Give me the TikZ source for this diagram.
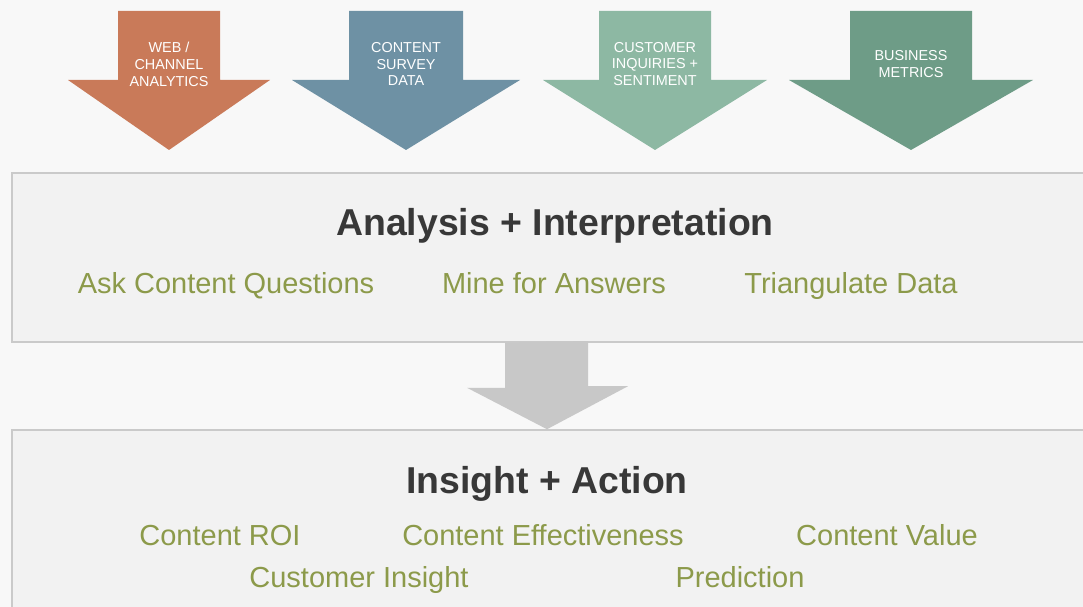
\documentclass[tikz,border=0pt]{standalone}
\usepackage{fontspec}
\setmainfont{Liberation Sans}
\usepackage{xcolor}
\usepackage{tikz}
\definecolor{pagebg}{HTML}{F8F8F8}
\definecolor{panelfill}{HTML}{F2F2F2}
\definecolor{panelline}{HTML}{CACACA}
\definecolor{webred}{HTML}{C97A59}
\definecolor{surveyblue}{HTML}{6E91A4}
\definecolor{inquirygreen}{HTML}{8DB8A3}
\definecolor{metricgreen}{HTML}{6E9C87}
\definecolor{flowgrey}{HTML}{C8C8C8}
\definecolor{itemolive}{HTML}{8C9A4A}
\definecolor{titlegrey}{HTML}{383838}
\tikzset{%
  panel/.style={rectangle, draw=panelline, fill=panelfill, line width=0.9pt, minimum width=21.76cm},
  srclabel/.style={text=white, align=center, font=\fontsize{8.2}{9.6}\selectfont},
  heading/.style={text=titlegrey, anchor=base, font=\fontsize{21.3}{25}\selectfont\bfseries},
  item/.style={text=itemolive, anchor=base, font=\fontsize{16.5}{19}\selectfont}
}

\begin{document}
\begin{tikzpicture}[x=0.02cm, y=-0.02cm]
        \useasboundingbox (0,0) rectangle (1083,607);
        \clip (0,0) rectangle (1083,607);
        \fill [pagebg] (0,0) rectangle (1083,607);

        % data sources
        \foreach \cx/\sw/\hw/\col/\nm/\txt in {%
            169/51/101/webred/web/{WEB /\\CHANNEL\\ANALYTICS},
            406/57/114/surveyblue/svy/{CONTENT\\SURVEY\\DATA},
            655/56/112/inquirygreen/inq/{CUSTOMER\\INQUIRIES +\\SENTIMENT},
            911/61/122/metricgreen/met/{BUSINESS\\METRICS}} {
            \fill [\col] (\cx-\sw,11) -- (\cx+\sw,11) -- (\cx+\sw,80) -- (\cx+\hw,80)
                -- (\cx,150) -- (\cx-\hw,80) -- (\cx-\sw,80) -- cycle;
            \node [srclabel] (\nm) at (\cx,64) {\txt};
        }

        \node [panel, minimum height=3.38cm] (anl) at (556,257.5) {};
        \node [panel, minimum height=4.2cm]  (ins) at (556,535) {};

        \node [heading] (anlt) at (555,236) {Analysis + Interpretation};
        \node [item]    (ask)  at (226,294) {Ask Content Questions};
        \node [item]    (mine) at (554,294) {Mine for Answers};
        \node [item]    (tri)  at (851,294) {Triangulate Data};

        \node [heading] (inst) at (547,494) {Insight + Action};
        \node [item]    (roi)  at (220,546) {Content ROI};
        \node [item]    (eff)  at (543,546) {Content Effectiveness};
        \node [item]    (val)  at (887,546) {Content Value};
        \node [item]    (cus)  at (359,588) {Customer Insight};
        \node [item]    (pre)  at (740,588) {Prediction};

        % flow from analysis to insight
        \coordinate (axis) at (547,0);
        \fill [flowgrey] (anl.south -| axis) ++(-42,0) -- ++(0,45) -- ++(-38,0) -- (ins.north -| axis)
            -- ++(81,-43) -- ++(-40,0) -- ++(0,-45) -- cycle;
    \end{tikzpicture}
\end{document}
